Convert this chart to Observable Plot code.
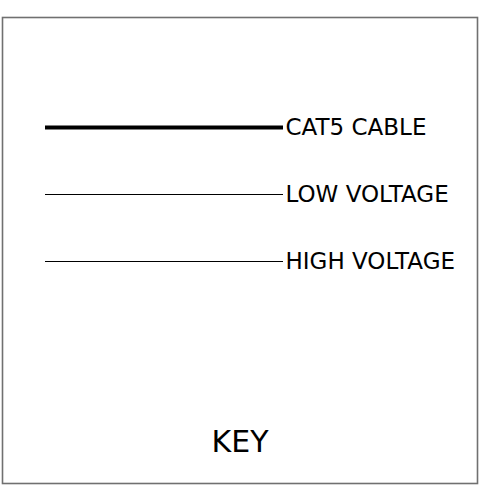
<!DOCTYPE html>
<html>
<head>
<meta charset="utf-8">
<script src="https://cdn.jsdelivr.net/npm/d3@7"></script>
<script src="https://cdn.jsdelivr.net/npm/@observablehq/plot@0.6"></script>
<style>
  html, body { margin: 0; padding: 0; background: #fff; }
  #chart svg { display: block; }
</style>
</head>
<body>
<div id="chart"></div>
<script>
// Legend entries (top to bottom)
const keyLabels = ["CAT5 CABLE", "LOW VOLTAGE", "HIGH VOLTAGE"];
const keyWeights = ["heavy", "thin", "thin"];
const keyTitle = ["KEY"];

const rows = keyLabels.map((label, i) => ({label, weight: keyWeights[i]}));

const plot = Plot.plot({
  width: 483,
  height: 485,
  marginLeft: 2,
  marginRight: 6,
  marginTop: 17,
  marginBottom: 2,
  style: {fontFamily: "'DejaVu Sans', Verdana, sans-serif", background: "#fff", color: "#000"},
  x: {domain: [0, 1], range: [45, 283], axis: null},
  y: {type: "point", domain: keyLabels, range: [127, 261], padding: 0, axis: null},
  marks: [
    Plot.frame({stroke: "#707070", strokeWidth: 1.6}),
    Plot.ruleY(rows, {
      y: "label", x1: 0, x2: 1,
      stroke: "#000",
      strokeWidth: d => d.weight === "heavy" ? 4 : 1.2
    }),
    Plot.text(rows, {
      y: "label", x: 1, text: "label",
      textAnchor: "start", dx: 2,
      fontSize: 23, fill: "#000"
    }),
    Plot.text(keyTitle, {
      text: d => d, frameAnchor: "bottom", dy: -32,
      fontSize: 30, fill: "#000"
    })
  ]
});
document.getElementById("chart").appendChild(plot);
</script>
</body>
</html>
